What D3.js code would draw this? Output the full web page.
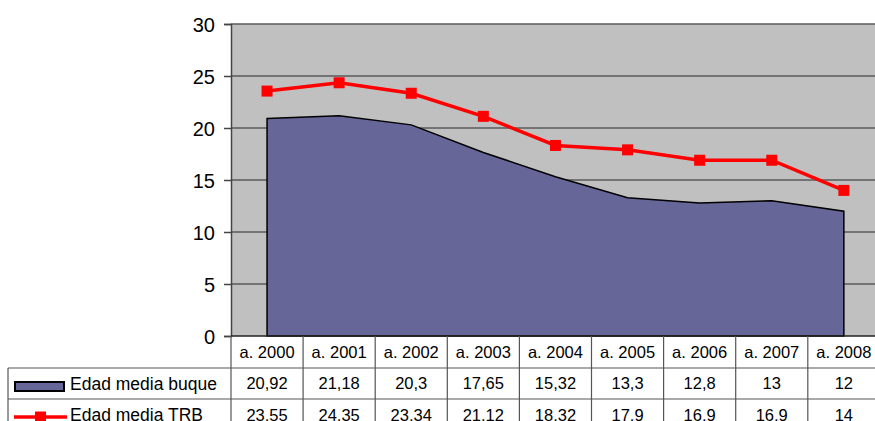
<!DOCTYPE html>
<html>
<head>
<meta charset="utf-8">
<script src="https://cdn.jsdelivr.net/npm/d3@7"></script>
<style>
  body { margin: 0; background: #fff; }
  text { font-family: "Liberation Sans", Arial, sans-serif; fill: #000; }
</style>
</head>
<body>
<div id="chart_box"></div>
<script>
// categories and series
var years = ["a. 2000", "a. 2001", "a. 2002", "a. 2003", "a. 2004", "a. 2005", "a. 2006", "a. 2007", "a. 2008"];
var buque = [20.92, 21.18, 20.3, 17.65, 15.32, 13.3, 12.8, 13, 12];
var trb = [23.55, 24.35, 23.34, 21.12, 18.32, 17.9, 16.9, 16.9, 14];
var yTicks = [0, 5, 10, 15, 20, 25, 30];
var seriesNames = ["Edad media buque", "Edad media TRB"];

var width = 875, height = 421;
var plotLeft = 231, plotTop = 24, plotBottom = 336;
var colWidth = 72.1;

var area_color = "#666699";
var line_color = "#FF0000";
var grid_color = "#5a5a5a";
var table_color = "#555555";

var svg = d3.select("#chart_box").append("svg")
    .attr("width", width)
    .attr("height", height);

var x = d3.scaleBand()
    .domain(years)
    .range([plotLeft, plotLeft + colWidth * years.length]);

var y = d3.scaleLinear()
    .domain([0, 30])
    .range([plotBottom, plotTop]);

var plotRight = x.range()[1];

// gray plot background
svg.append("rect")
    .attr("x", plotLeft)
    .attr("y", plotTop)
    .attr("width", plotRight - plotLeft)
    .attr("height", plotBottom - plotTop)
    .style("fill", "#C0C0C0");

// horizontal gridlines
svg.selectAll(".grid")
    .data(yTicks.slice(1))
    .enter().append("line")
    .attr("class", "grid")
    .attr("x1", plotLeft)
    .attr("x2", plotRight)
    .attr("y1", function (d) { return y(d); })
    .attr("y2", function (d) { return y(d); })
    .style("stroke", grid_color)
    .style("stroke-width", 1.5);

function cx(d, i) { return x(years[i]) + x.bandwidth() / 2; }

// area series
var area = d3.area()
    .x(cx)
    .y0(y(0))
    .y1(function (d) { return y(d); });

svg.append("path")
    .datum(buque)
    .attr("d", area)
    .style("fill", area_color)
    .style("stroke", "#000")
    .style("stroke-width", 1.5)
    .style("stroke-linejoin", "miter");

// line series with square markers
var line = d3.line()
    .x(cx)
    .y(function (d) { return y(d); });

svg.append("path")
    .datum(trb)
    .attr("d", line)
    .style("fill", "none")
    .style("stroke", line_color)
    .style("stroke-width", 3.5);

svg.selectAll(".marker")
    .data(trb)
    .enter().append("rect")
    .attr("class", "marker")
    .attr("x", function (d, i) { return cx(d, i) - 5.5; })
    .attr("y", function (d) { return y(d) - 5.5; })
    .attr("width", 11)
    .attr("height", 11)
    .style("fill", line_color);

// y axis
var yAxis = d3.axisLeft(y)
    .tickValues(yTicks)
    .tickSize(7)
    .tickPadding(9)
    .tickFormat(d3.format("d"));

var ga = svg.append("g")
    .attr("transform", "translate(" + plotLeft + ",0)")
    .call(yAxis);
ga.select(".domain").style("stroke", "#444").style("stroke-width", 1.5);
ga.selectAll(".tick line").style("stroke", "#444").style("stroke-width", 1.5);
ga.selectAll(".tick text")
    .style("font-size", "20px")
    .style("font-family", "'Liberation Sans', Arial, sans-serif")
    .attr("dy", "0.36em");

// bottom axis line
svg.append("line")
    .attr("x1", plotLeft)
    .attr("x2", plotRight)
    .attr("y1", plotBottom)
    .attr("y2", plotBottom)
    .style("stroke", "#222")
    .style("stroke-width", 1.5);

// data table
var rowTop = [plotBottom, 368, 399];
var rowH = [32, 31, 32];
var tableLeft = 8;
var tbl = svg.append("g");

// horizontal lines
[368, 399].forEach(function (yy) {
    tbl.append("line")
        .attr("x1", tableLeft).attr("x2", plotRight)
        .attr("y1", yy).attr("y2", yy)
        .style("stroke", table_color).style("stroke-width", 1.2);
});
tbl.append("line")
    .attr("x1", tableLeft).attr("x2", tableLeft)
    .attr("y1", 368).attr("y2", height)
    .style("stroke", table_color).style("stroke-width", 1.2);

// vertical lines at category borders
tbl.selectAll(".vline")
    .data(years.concat(["end"]))
    .enter().append("line")
    .attr("class", "vline")
    .attr("x1", function (d, i) { return plotLeft + i * x.bandwidth(); })
    .attr("x2", function (d, i) { return plotLeft + i * x.bandwidth(); })
    .attr("y1", plotBottom)
    .attr("y2", height)
    .style("stroke", table_color)
    .style("stroke-width", 1.2);

function fmt(v) { return String(v).replace(".", ","); }

function cellRow(values, top, h) {
    tbl.selectAll(null)
        .data(values)
        .enter().append("text")
        .attr("x", function (d, i) { return x(years[i]) + x.bandwidth() / 2; })
        .attr("y", top + h / 2)
        .attr("dy", "0.36em")
        .style("text-anchor", "middle")
        .style("font-size", "16.5px")
        .text(function (d) { return d; });
}

cellRow(years, rowTop[0], rowH[0]);
cellRow(buque.map(fmt), rowTop[1], rowH[1]);
cellRow(trb.map(fmt), rowTop[2], rowH[2]);

// legend keys in the table
tbl.append("rect")
    .attr("x", 15).attr("y", 382)
    .attr("width", 49).attr("height", 9)
    .style("fill", area_color)
    .style("stroke", "#000")
    .style("stroke-width", 2);

tbl.append("line")
    .attr("x1", 14).attr("x2", 67)
    .attr("y1", 417).attr("y2", 417)
    .style("stroke", line_color)
    .style("stroke-width", 3.5);
tbl.append("rect")
    .attr("x", 35).attr("y", 411.5)
    .attr("width", 11).attr("height", 11)
    .style("fill", line_color);

tbl.selectAll(".legend-text")
    .data(seriesNames)
    .enter().append("text")
    .attr("class", "legend-text")
    .attr("x", 70)
    .attr("y", function (d, i) { return rowTop[i + 1] + rowH[i + 1] / 2; })
    .attr("dy", "0.36em")
    .style("font-size", "17.5px")
    .text(function (d) { return d; });
</script>
</body>
</html>
